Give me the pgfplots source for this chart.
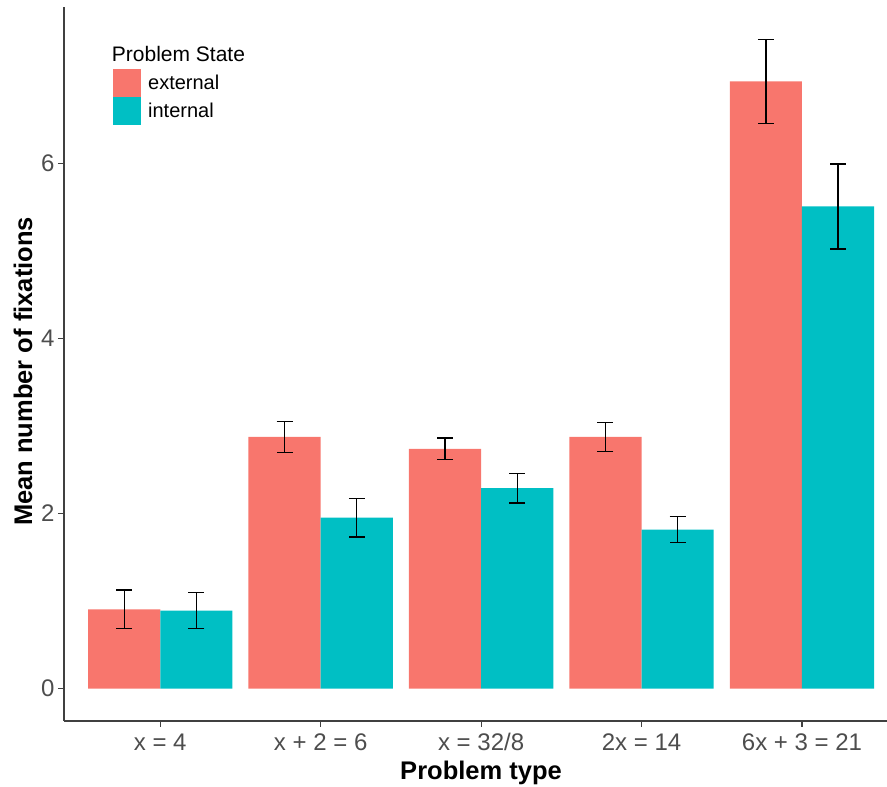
\documentclass[border=0pt]{standalone}
\usepackage{fontspec}
\setmainfont{Liberation Sans}
\usepackage{pgfplots}
\usepackage{pgfplotstable}
\pgfplotsset{compat=1.18}
\definecolor{extc}{HTML}{F8766D}
\definecolor{intc}{HTML}{00BFC4}
\definecolor{tickc}{HTML}{4D4D4D}
\pgfplotstableread{
x y e
1 0.906 0.222
2 2.876 0.175
3 2.740 0.125
4 2.876 0.168
5 6.940 0.480
}\ext
\pgfplotstableread{
x y e
1 0.890 0.206
2 1.954 0.220
3 2.290 0.170
4 1.817 0.147
5 5.510 0.485
}\inte
\begin{document}
\begin{tikzpicture}
\begin{axis}[
  name=ax,
  scale only axis, width=823pt, height=714pt,
  xmin=0.4, xmax=5.53, ymin=-0.37, ymax=7.79,
  axis x line*=bottom, axis y line*=left,
  axis line style={draw=black!75, line width=1.4pt},
  xtick={1,2,3,4,5},
  xticklabels={{x = 4},{x + 2 = 6},{x = 32/8},{2x = 14},{6x + 3 = 21}},
  ytick={0,2,4,6},
  tick align=outside, major tick length=6pt,
  tick style={draw=black!75, line width=1.2pt},
  /pgf/number format/assume math mode=true,
  ticklabel style={font=\fontsize{24}{28}\selectfont, text=tickc},
  xticklabel style={yshift=-3pt},
  xlabel={Problem type}, ylabel={Mean number of fixations},
  every axis x label/.style={at={(axis description cs:0.5067,-0.0728)}, anchor=center,
    font=\bfseries\fontsize{25.5}{30}\selectfont},
  every axis y label/.style={at={(axis description cs:-0.0498,0.4895)}, rotate=90, anchor=center,
    font=\bfseries\fontsize{25.5}{30}\selectfont},
  legend image code/.code={\fill[#1] (0pt,-14pt) rectangle (28pt,14pt);},
  legend style={at={(axis description cs:0.0595,0.914)}, anchor=north west,
    draw=none, fill=none, inner sep=0pt, row sep=0pt,
    font=\fontsize{20}{24}\selectfont, nodes={inner sep=1pt},
    /tikz/every odd column/.append style={column sep=6pt}},
  legend cell align=left,
]
\addplot[ybar, bar width=0.45, bar shift=-0.225, fill=extc, draw=none]
  table[x=x, y=y] {\ext};
\addplot[ybar, bar width=0.45, bar shift=0.225, fill=intc, draw=none]
  table[x=x, y=y] {\inte};
\legend{external, internal}
\addplot[draw=none, mark=none, forget plot,
  error bars/.cd, y dir=both, y explicit,
  error bar style={black, line width=1.3pt},
  error mark=-, error mark options={rotate=90, black, line width=1.3pt, mark size=8pt}]
  table[x expr=\thisrow{x}-0.225, y=y, y error=e] {\ext};
\addplot[draw=none, mark=none, forget plot,
  error bars/.cd, y dir=both, y explicit,
  error bar style={black, line width=1.3pt},
  error mark=-, error mark options={rotate=90, black, line width=1.3pt, mark size=8pt}]
  table[x expr=\thisrow{x}+0.225, y=y, y error=e] {\inte};
\node[anchor=west, inner sep=0pt, font=\fontsize{21}{25}\selectfont] at (axis description cs:0.058,0.934) {Problem State};
\end{axis}
\pgfresetboundingbox
\useasboundingbox ([shift={(-64pt,-66pt)}]ax.south west) rectangle ([shift={(0pt,7pt)}]ax.north east);
\end{tikzpicture}
\end{document}
